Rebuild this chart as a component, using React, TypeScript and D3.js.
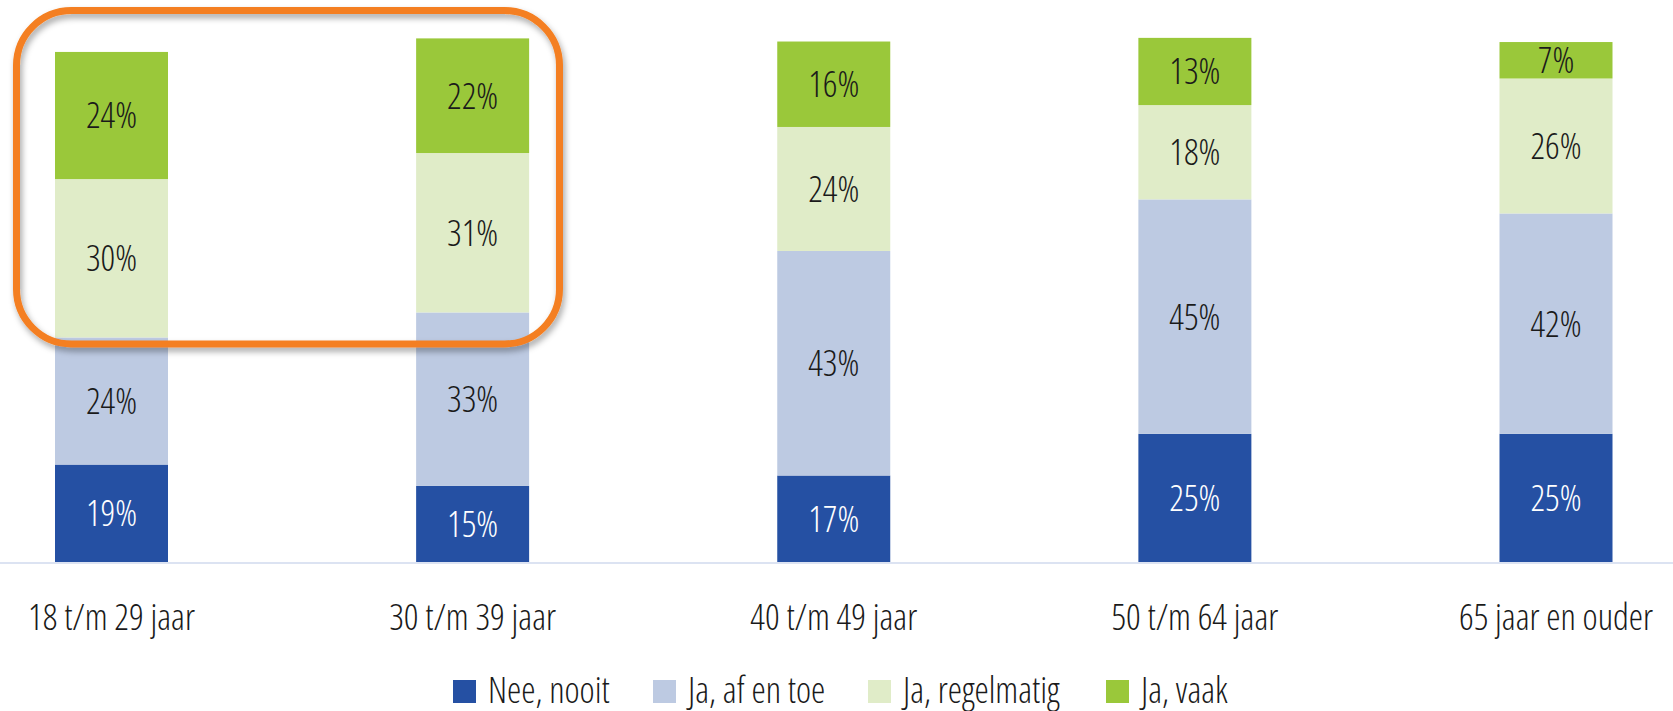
import React from "react";
import * as d3 from "d3";

const categories = ["18 t/m 29 jaar", "30 t/m 39 jaar", "40 t/m 49 jaar", "50 t/m 64 jaar", "65 jaar en ouder"];
const seriesNames = ["Nee, nooit", "Ja, af en toe", "Ja, regelmatig", "Ja, vaak"];
const neeNooit = [18.7, 14.6, 16.6, 24.6, 24.6];
const afEnToe = [24.4, 33.3, 43.1, 45.0, 42.3];
const regelmatig = [30.4, 30.6, 23.8, 18.1, 25.9];
const vaak = [24.4, 22.0, 16.4, 12.9, 7.0];
const colors = ["#2550A3", "#BDCAE2", "#E0ECC8", "#9AC83A"];
const labelColors = ["#ffffff", "#1a1a1a", "#1a1a1a", "#1a1a1a"];

const W = 1673;
const H = 711;
const FONT = "'Open Sans', 'Liberation Sans Narrow', sans-serif";

export default function App() {
  const series = [neeNooit, afEnToe, regelmatig, vaak];
  const rows = categories.map((c, i) => {
    const r: any = { cat: c };
    seriesNames.forEach((s, j) => (r[s] = series[j][i]));
    return r;
  });
  const stacked = d3.stack<any>().keys(seriesNames)(rows);

  const x = d3.scalePoint<string>().domain(categories).range([111.5, 1556]);
  const y = d3.scaleLinear().domain([0, 100]).range([562, 41]);
  const bw = 113;

  const legendX = [453, 653, 868, 1106];

  const textStyle: React.CSSProperties = {
    fontFamily: FONT,
    fontStretch: "75%",
    fontWeight: 300,
  };

  return (
    <svg width={W} height={H} style={{ position: "absolute", left: 0, top: 0, background: "#fff" }}>
      <defs>
        <filter id="sh" x="-10%" y="-10%" width="120%" height="130%">
          <feDropShadow dx="2" dy="4" stdDeviation="3" floodColor="#000" floodOpacity="0.35" />
        </filter>
      </defs>
      <rect x={0} y={0} width={W} height={H} fill="#fff" />
      {stacked.map((layer, j) => (
        <g key={layer.key}>
          {layer.map((d, i) => (
            <rect
              key={i}
              x={(x(categories[i]) as number) - bw / 2}
              y={y(d[1])}
              width={bw}
              height={y(d[0]) - y(d[1])}
              fill={colors[j]}
            />
          ))}
        </g>
      ))}
      <line x1={0} x2={W} y1={y(0) + 1} y2={y(0) + 1} stroke="#DCE3F2" strokeWidth={2} />
      {stacked.map((layer, j) => (
        <g key={"l" + layer.key}>
          {layer.map((d, i) => (
            <text
              key={i}
              x={x(categories[i]) as number}
              y={(y(d[0]) + y(d[1])) / 2}
              dy="0.36em"
              textAnchor="middle"
              fontSize={36}
              fill={labelColors[j]}
              style={textStyle}
            >
              {Math.round(series[j][i]) + "%"}
            </text>
          ))}
        </g>
      ))}
      {categories.map((c) => (
        <text key={c} x={x(c) as number} y={630} textAnchor="middle" fontSize={36} fill="#1a1a1a" style={textStyle}>
          {c}
        </text>
      ))}
      {seriesNames.map((s, j) => (
        <g key={"lg" + s} transform={`translate(${legendX[j]},0)`}>
          <rect x={0} y={680} width={23} height={23} fill={colors[j]} />
          <text x={35} y={703} fontSize={36} fill="#1a1a1a" style={textStyle}>
            {s}
          </text>
        </g>
      ))}
      <rect
        x={16.5}
        y={10.5}
        width={543}
        height={333.5}
        rx={55}
        ry={55}
        fill="none"
        stroke="#F47F20"
        strokeWidth={7}
        filter="url(#sh)"
      />
    </svg>
  );
}
